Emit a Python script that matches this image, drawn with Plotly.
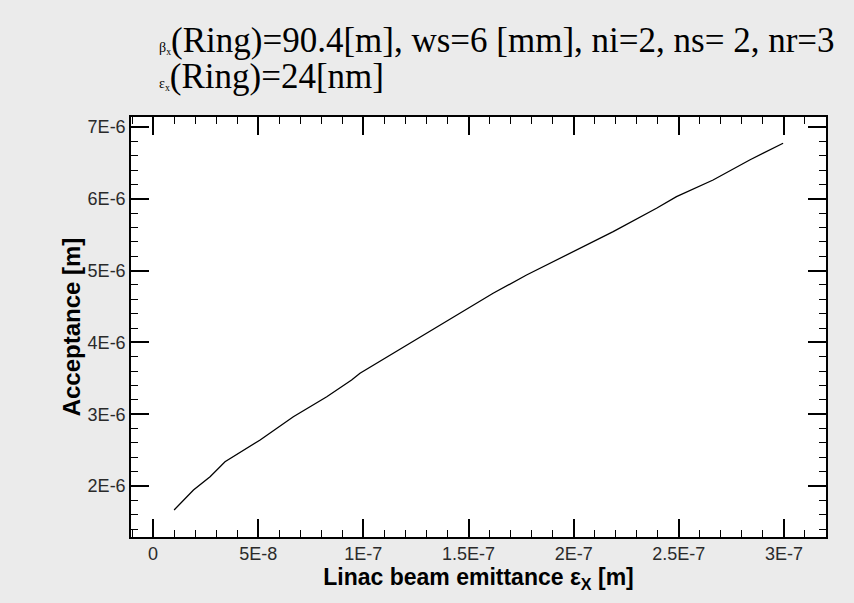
import plotly.graph_objects as go

# Data
emittance_x = [1.0e-8, 1.92e-8, 2.71e-8, 3.42e-8, 5.09e-8, 6.67e-8, 8.26e-8, 9.44e-8,
               9.84e-8, 1.142e-7, 1.301e-7, 1.459e-7, 1.617e-7, 1.776e-7, 1.998e-7,
               2.188e-7, 2.394e-7, 2.489e-7, 2.663e-7, 2.837e-7, 2.996e-7]
acceptance = [1.666e-6, 1.944e-6, 2.13e-6, 2.338e-6, 2.641e-6, 2.965e-6, 3.244e-6, 3.476e-6,
              3.57e-6, 3.848e-6, 4.127e-6, 4.405e-6, 4.684e-6, 4.939e-6, 5.263e-6,
              5.542e-6, 5.868e-6, 6.03e-6, 6.262e-6, 6.54e-6, 6.773e-6]

x_tickvals = [0, 5e-8, 1e-7, 1.5e-7, 2e-7, 2.5e-7, 3e-7]
x_ticktext = ["0", "5E-8", "1E-7", "1.5E-7", "2E-7", "2.5E-7", "3E-7"]
y_tickvals = [2e-6, 3e-6, 4e-6, 5e-6, 6e-6, 7e-6]
y_ticktext = ["2E-6", "3E-6", "4E-6", "5E-6", "6E-6", "7E-6"]

title_line1 = "<span style='font-size:14px'>β<sub>x</sub></span>(Ring)=90.4[m], ws=6 [mm], ni=2, ns= 2, nr=3"
title_line2 = "<span style='font-size:14px'>ε<sub>x</sub></span>(Ring)=24[nm]"

fig = go.Figure()
fig.add_trace(go.Scatter(x=emittance_x, y=acceptance, mode="lines",
                         line=dict(color="black", width=1.3), showlegend=False))

tickfont = dict(family="Liberation Sans, Arial", size=18, color="#2a2a2a")
axis_common = dict(showgrid=False, zeroline=False, showline=True, linecolor="black",
                   linewidth=1.5, mirror="ticks", ticks="inside", tickcolor="black",
                   tickwidth=1.5, ticklen=18, tickfont=tickfont)

fig.update_xaxes(range=[-1.05e-8, 3.2e-7], tickvals=x_tickvals, ticktext=x_ticktext,
                 minor=dict(dtick=1e-8, tick0=0, ticks="inside", ticklen=7,
                            tickcolor="black", tickwidth=1.2, showgrid=False),
                 title=dict(text="Linac beam emittance ε<sub>X</sub> [m]",
                            font=dict(family="Liberation Sans, Arial",
                                      size=23, color="black", weight="bold"),
                            standoff=2),
                 **axis_common)
fig.update_yaxes(range=[1.29e-6, 7.139e-6], tickvals=y_tickvals, ticktext=y_ticktext,
                 minor=dict(dtick=2e-7, tick0=0, ticks="inside", ticklen=7,
                            tickcolor="black", tickwidth=1.2, showgrid=False),
                 title=dict(text="Acceptance [m]",
                            font=dict(family="Liberation Sans, Arial",
                                      size=24, color="black", weight="bold"),
                            standoff=0),
                 **axis_common)

titlefont = dict(family="Liberation Serif, Times New Roman, serif", size=35, color="black")
fig.add_annotation(text=title_line1, xref="paper", yref="paper", x=(157 - 131) / 695,
                   y=1 + (117 - 41) / 420, xanchor="left", yanchor="middle",
                   showarrow=False, font=titlefont)
fig.add_annotation(text=title_line2, xref="paper", yref="paper", x=(157 - 131) / 695,
                   y=1 + (117 - 77) / 420, xanchor="left", yanchor="middle",
                   showarrow=False, font=titlefont)

fig.update_layout(width=854, height=603, paper_bgcolor="#EBEBEB", plot_bgcolor="white",
                  margin=dict(l=131, r=28, t=117, b=66), showlegend=False)

fig.write_html("out.html")
